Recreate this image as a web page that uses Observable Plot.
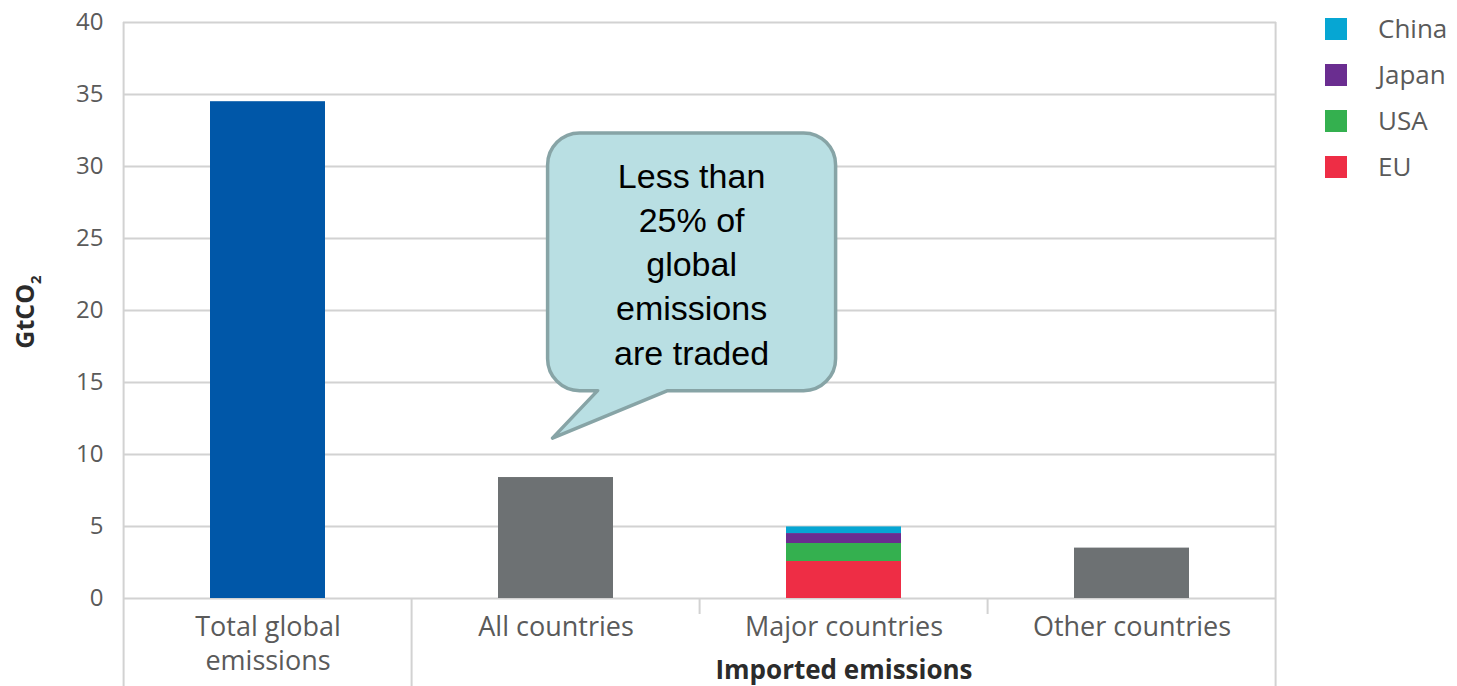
<!DOCTYPE html>
<html>
<head>
<meta charset="utf-8">
<script src="https://cdn.jsdelivr.net/npm/d3@7"></script>
<script src="https://cdn.jsdelivr.net/npm/@observablehq/plot@0.6"></script>
<style>
  html, body { margin: 0; padding: 0; background: #fff; }
  #chart { width: 1457px; height: 686px; }
</style>
</head>
<body>
<div id="chart"></div>
<script>
// Categories along the x axis
const categories = ["Total global emissions", "All countries", "Major countries", "Other countries"];
const categoryLabels = ["Total global\nemissions", "All countries", "Major countries", "Other countries"];

// Single-value bars (GtCO2)
const totalGlobal = 34.5;
const allCountries = 8.4;
const otherCountries = 3.5;

// Stacked bar: imported emissions of the major countries (bottom to top)
const majorSeries = ["EU", "USA", "Japan", "China"];
const majorValues = [2.57, 1.25, 0.69, 0.46];

// Series colours
const seriesNames = ["China", "Japan", "USA", "EU", "Total", "Imports"];
const seriesColors = ["#06a6d3", "#6a2d90", "#34b04f", "#ee2d45", "#0057a8", "#6d7173"];

// Y axis ticks
const yTicks = [0, 5, 10, 15, 20, 25, 30, 35, 40];

// Callout text and the value its pointer rests on
const calloutLines = ["Less than", "25% of", "global", "emissions", "are traded"];
const calloutPointerValue = 11.1;

const rows = [
  {category: categories[0], series: "Total", value: totalGlobal},
  {category: categories[1], series: "Imports", value: allCountries},
  ...majorSeries.map((s, i) => ({category: categories[2], series: s, value: majorValues[i]})),
  {category: categories[3], series: "Imports", value: otherCountries}
];

const labelFont = "'Open Sans', sans-serif";
const gridColor = "#d2d2d2";

const W = 1457, H = 686;
const plot = Plot.plot({
  width: W,
  height: H,
  marginLeft: 123,
  marginRight: 181,
  marginTop: 22,
  marginBottom: 88,
  style: {fontFamily: labelFont, color: "#5a5a5a", background: "#fff", overflow: "visible"},
  x: {type: "band", domain: categories, paddingInner: 0.6, paddingOuter: 0.3, axis: null},
  y: {domain: [0, 40], axis: null},
  color: {domain: seriesNames, range: seriesColors},
  marks: [
    Plot.ruleY(yTicks, {stroke: gridColor, strokeWidth: 2}),
    Plot.barY(rows, {x: "category", y: "value", fill: "series", inset: 0}),
    Plot.axisY(yTicks, {
      tickSize: 0, tickPadding: 20, fontSize: 24, label: null, tickFormat: d => String(d)
    }),
    Plot.axisX({
      tickSize: 0, tickPadding: 13, fontSize: 27, lineHeight: 1.27, label: null,
      tickFormat: d => categoryLabels[categories.indexOf(d)]
    }),
    Plot.text(["Imported emissions"], {
      x: () => categories[2], y: () => 0, text: d => d,
      dy: 72, fontSize: 26, fontWeight: "bold", fill: "#2b2b2b", lineAnchor: "middle"
    })
  ]
});

document.getElementById("chart").appendChild(plot);

// Frame and category separators, placed from the scales
const svg = d3.select(plot);
const xs = plot.scale("x");
const ys = plot.scale("y");
const step = xs.step ?? (W - 123 - 181) / categories.length;
const bw = xs.bandwidth ?? step * 0.4;
const left = xs.apply(categories[0]) - step * 0.3;
const yTop = ys.apply(40), yBase = ys.apply(0);
const g = svg.append("g").attr("stroke", gridColor).attr("stroke-width", 2);
const edges = [left, left + step * categories.length];
for (const x of edges) g.append("line").attr("x1", x).attr("x2", x).attr("y1", yTop).attr("y2", H);
g.append("line").attr("x1", left + step).attr("x2", left + step).attr("y1", yBase).attr("y2", H);
for (const k of [2, 3]) {
  const x = left + step * k;
  g.append("line").attr("x1", x).attr("x2", x).attr("y1", yBase).attr("y2", yBase + 16);
}

// Y axis title with subscript
const yt = svg.append("text")
  .attr("transform", `translate(34, ${(yTop + yBase) / 2 + 2}) rotate(-90)`)
  .attr("text-anchor", "middle")
  .attr("font-family", labelFont)
  .attr("font-weight", "bold")
  .attr("font-size", 25)
  .attr("fill", "#2b2b2b");
yt.append("tspan").text("GtCO");
yt.append("tspan").text("2").attr("font-size", 15).attr("dy", 7);

// Legend at top right
const legendSeries = majorSeries.slice().reverse();
const lg = svg.append("g")
  .attr("font-family", labelFont).attr("font-size", 26).attr("fill", "#5a5a5a")
  .attr("text-anchor", "start");
legendSeries.forEach((s, i) => {
  const cy = 29 + i * 46;
  lg.append("rect").attr("x", 1325).attr("y", cy - 11).attr("width", 22).attr("height", 22)
    .attr("fill", plot.scale("color").apply(s));
  lg.append("text").attr("x", 1378).attr("y", cy).attr("dy", "0.36em").text(s);
});

// Speech-bubble callout pointing at the "All countries" bar
const boundary = left + step * 2;
const bx0 = boundary - step / 2 - 8, bx1 = bx0 + step;
const by0 = ys.apply(32.3), by1 = ys.apply(14.4);
const r = 32;
const tipX = xs.apply(categories[1]) + bw / 2 - 3, tipY = ys.apply(calloutPointerValue);
const tailA = bx0 + 50, tailB = bx0 + 120;
const path = [
  `M${bx0 + r},${by0}`,
  `L${bx1 - r},${by0}`,
  `A${r},${r} 0 0 1 ${bx1},${by0 + r}`,
  `L${bx1},${by1 - r}`,
  `A${r},${r} 0 0 1 ${bx1 - r},${by1}`,
  `L${tailB},${by1}`,
  `L${tipX},${tipY}`,
  `L${tailA},${by1}`,
  `L${bx0 + r},${by1}`,
  `A${r},${r} 0 0 1 ${bx0},${by1 - r}`,
  `L${bx0},${by0 + r}`,
  `A${r},${r} 0 0 1 ${bx0 + r},${by0}`,
  "Z"
].join(" ");
svg.append("path").attr("d", path)
  .attr("fill", "#b9dfe3").attr("stroke", "#87a4a6").attr("stroke-width", 3.5)
  .attr("stroke-linejoin", "round");
const ct = svg.append("text")
  .attr("text-anchor", "middle")
  .attr("font-family", "'Liberation Sans', Arial, sans-serif")
  .attr("font-size", 34)
  .attr("fill", "#000");
calloutLines.forEach((line, i) => {
  ct.append("tspan").attr("x", (bx0 + bx1) / 2).attr("y", by0 + 55 + i * 44.2).text(line);
});
</script>
</body>
</html>
